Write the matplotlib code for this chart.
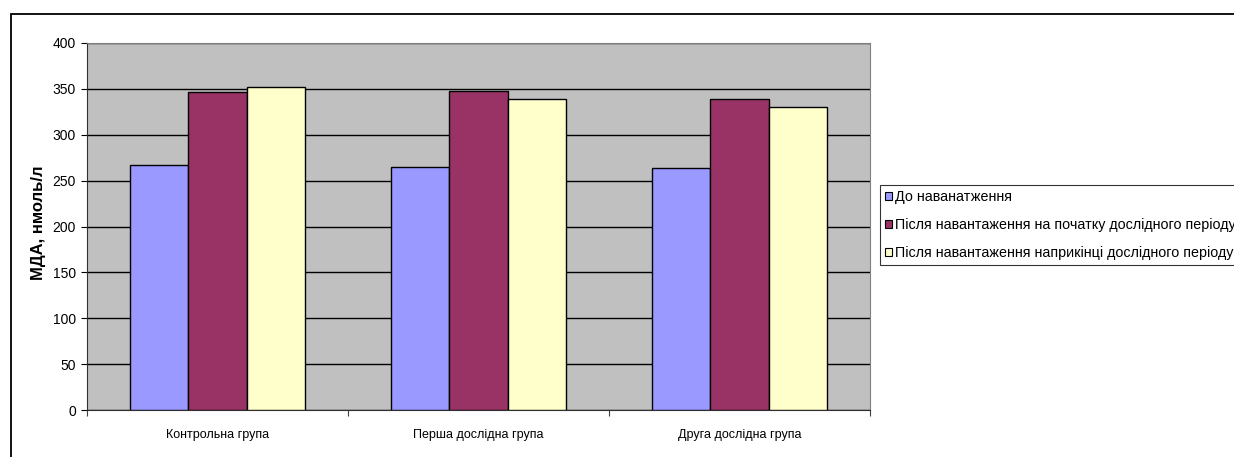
import matplotlib.pyplot as plt
import numpy as np
from matplotlib.patches import Patch, Rectangle

plt.rcParams['font.family'] = ['Liberation Sans', 'DejaVu Sans']

# MDA levels by group
groups = ['Контрольна група', 'Перша дослідна група', 'Друга дослідна група']
series_names = ['До наванатження',
                'Після навантаження на початку дослідного періоду',
                'Після навантаження наприкінці дослідного періоду']
before = [267, 265, 264]
after_start = [347, 348, 339]
after_end = [352, 339, 330]
colors = ['#9999FF', '#993366', '#FFFFCC']

W, H = 1234, 457
fig = plt.figure(figsize=(W / 100, H / 100), dpi=100)

# outer chart frame
fig.patches.append(Rectangle((11 / W, -0.1), 1.2, 1 - 14 / H + 0.1,
                             transform=fig.transFigure, fill=False,
                             edgecolor='black', linewidth=1.3))

ax = fig.add_axes([87 / W, 1 - 410 / H, (870 - 87) / W, (410 - 43) / H])
ax.set_facecolor('#C0C0C0')

x = np.arange(len(groups))
bw = 0.223
for i, (vals, c) in enumerate(zip([before, after_start, after_end], colors)):
    ax.bar(x + (i - 1) * bw, vals, width=bw, color=c, edgecolor='black',
           linewidth=1.0, zorder=3)

ax.set_xlim(-0.5, len(groups) - 0.5)
ax.set_ylim(0, 400)
ax.set_yticks(np.arange(0, 401, 50))
ax.yaxis.grid(True, color='black', linewidth=1.0, zorder=0)
ax.set_axisbelow(True)

ax.set_xticks(np.arange(-0.5, len(groups), 1.0))
ax.set_xticklabels([])
ax.set_xticks(x, minor=True)
ax.set_xticklabels(groups, minor=True, fontsize=9)
ax.tick_params(axis='x', which='minor', length=0, pad=14)
ax.tick_params(axis='x', which='major', length=4, direction='out', color='#404040')
ax.tick_params(axis='y', length=4, direction='out', labelsize=10, pad=4)

ax.set_ylabel('МДА, нмоль/л', fontsize=12, fontweight='bold')
ax.yaxis.set_label_coords(-41 / 783, 0.51)

for s in ['top', 'right']:
    ax.spines[s].set_color('#808080')
for s in ['left', 'bottom']:
    ax.spines[s].set_color('#303030')

handles = [Patch(facecolor=c, edgecolor='black', linewidth=0.8) for c in colors]
leg = fig.legend(handles, series_names, loc='upper left',
                 bbox_to_anchor=(880 / W, 1 - 185 / H), fontsize=10.3,
                 frameon=True, fancybox=False, handlelength=0.5,
                 handleheight=0.5, handletextpad=0.2, borderpad=0.35,
                 labelspacing=0.98, borderaxespad=0)
leg.get_frame().set_edgecolor('black')
leg.get_frame().set_linewidth(0.8)

fig.savefig('out.png', dpi=100)
